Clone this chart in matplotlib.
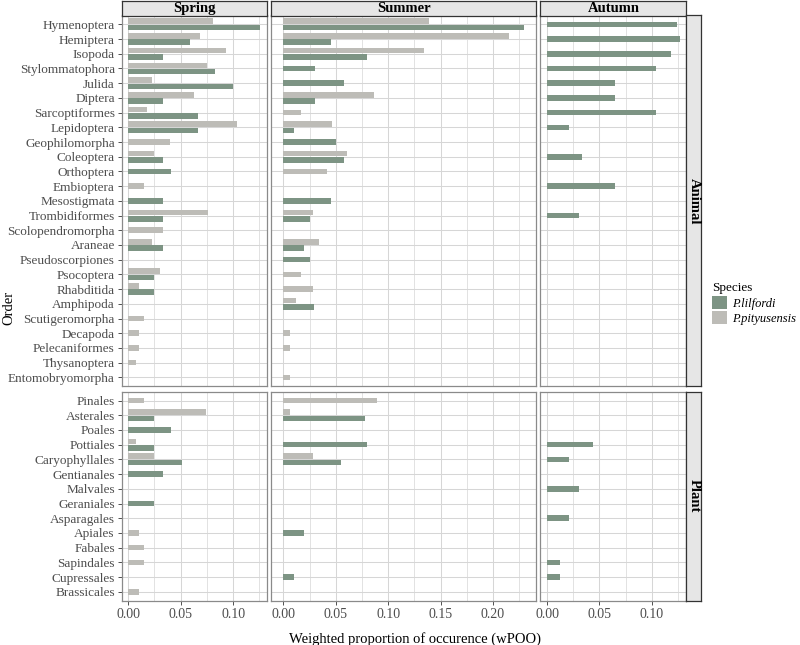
import numpy as np
import matplotlib
matplotlib.use("Agg")
import matplotlib.pyplot as plt
from matplotlib.patches import Patch
from matplotlib.ticker import MultipleLocator, FormatStrFormatter

plt.rcParams['font.family'] = ['Liberation Serif', 'DejaVu Serif']

# ---------------- data ----------------
seasons = ["Spring", "Summer", "Autumn"]
groups = ["Animal", "Plant"]
species = ["P.lilfordi", "P.pityusensis"]

animal_orders = ["Hymenoptera", "Hemiptera", "Isopoda", "Stylommatophora", "Julida",
                 "Diptera", "Sarcoptiformes", "Lepidoptera", "Geophilomorpha", "Coleoptera",
                 "Orthoptera", "Embioptera", "Mesostigmata", "Trombidiformes",
                 "Scolopendromorpha", "Araneae", "Pseudoscorpiones", "Psocoptera",
                 "Rhabditida", "Amphipoda", "Scutigeromorpha", "Decapoda", "Pelecaniformes",
                 "Thysanoptera", "Entomobryomorpha"]
plant_orders = ["Pinales", "Asterales", "Poales", "Pottiales", "Caryophyllales", "Gentianales",
                "Malvales", "Geraniales", "Asparagales", "Apiales", "Fabales", "Sapindales",
                "Cupressales", "Brassicales"]

# animal values (0 = absent)
spring_lil_animal = [0.126, 0.059, 0.033, 0.083, 0.100, 0.033, 0.067, 0.067, 0, 0.033,
                     0.041, 0, 0.033, 0.033, 0, 0.033, 0, 0.025, 0.025, 0,
                     0, 0, 0, 0, 0]
spring_pit_animal = [0.081, 0.068, 0.093, 0.075, 0.023, 0.063, 0.018, 0.104, 0.040, 0.025,
                     0, 0.015, 0, 0.076, 0.033, 0.023, 0, 0.030, 0.010, 0,
                     0.015, 0.010, 0.010, 0.007, 0]
summer_lil_animal = [0.2295, 0.045, 0.080, 0.030, 0.058, 0.030, 0, 0.010, 0.050, 0.058,
                     0, 0, 0.045, 0.025, 0, 0.020, 0.025, 0, 0, 0.029,
                     0, 0, 0, 0, 0]
summer_pit_animal = [0.139, 0.2156, 0.134, 0, 0, 0.086, 0.017, 0.046, 0, 0.061,
                     0.042, 0, 0, 0.028, 0, 0.034, 0, 0.017, 0.028, 0.012,
                     0, 0.006, 0.006, 0, 0.006]
autumn_lil_animal = [0.1245, 0.1268, 0.1185, 0.1038, 0.0646, 0.0646, 0.1038, 0.021, 0, 0.0334,
                     0, 0.0646, 0, 0.031, 0, 0, 0, 0, 0, 0,
                     0, 0, 0, 0, 0]
autumn_pit_animal = [0] * 25

# plant values
spring_lil_plant = [0, 0.025, 0.041, 0.025, 0.051, 0.033, 0, 0.025, 0, 0, 0, 0, 0, 0]
spring_pit_plant = [0.015, 0.074, 0, 0.007, 0.025, 0, 0, 0, 0, 0.010, 0.015, 0.015, 0, 0.010]
summer_lil_plant = [0, 0.078, 0, 0.080, 0.055, 0, 0, 0, 0, 0.020, 0, 0, 0.010, 0]
summer_pit_plant = [0.089, 0.006, 0, 0, 0.028, 0, 0, 0, 0, 0, 0, 0, 0, 0]
autumn_lil_plant = [0, 0, 0, 0.044, 0.021, 0, 0.031, 0, 0.021, 0, 0, 0.0124, 0.0124, 0]
autumn_pit_plant = [0] * 14

# ---------------- style ----------------
col_lil = "#7d9484"
col_pit = "#bdbcb7"
grid_col = "#d6d6d6"
border_col = "#8a8a8a"
strip_bg = "#e6e6e6"
strip_edge = "#333333"
tick_col = "#4d4d4d"

data = {
    ("Animal", "Spring"): (spring_lil_animal, spring_pit_animal),
    ("Animal", "Summer"): (summer_lil_animal, summer_pit_animal),
    ("Animal", "Autumn"): (autumn_lil_animal, autumn_pit_animal),
    ("Plant", "Spring"): (spring_lil_plant, spring_pit_plant),
    ("Plant", "Summer"): (summer_lil_plant, summer_pit_plant),
    ("Plant", "Autumn"): (autumn_lil_plant, autumn_pit_plant),
}
orders = {"Animal": animal_orders, "Plant": plant_orders}

W, H = 800, 645
fig = plt.figure(figsize=(W / 100, H / 100), dpi=100)

# free x scales per season
season_max = {}
for s in seasons:
    m = 0
    for g in groups:
        lil, pit = data[(g, s)]
        m = max(m, max(lil), max(pit))
    season_max[s] = m

left0 = 121.7
right_end = 686.5
gap_x = 4.5
tot_range = sum(1.1 * season_max[s] for s in seasons)
xscale = (right_end - left0 - 2 * gap_x) / tot_range

top0 = 15.5
bottom_end = 600.6
gap_y = 5.5
units = {g: len(orders[g]) - 1 + 1.2 for g in groups}
yscale = (bottom_end - top0 - gap_y) / sum(units.values())

strip_h = 14.5
strip_w = 14.8

def fx(px):
    return px / W

def fy(py):
    return 1 - py / H

bar_h = 0.38
off = 0.215

x_pos = {}
x = left0
for s in seasons:
    w = 1.1 * season_max[s] * xscale
    x_pos[s] = (x, w)
    x += w + gap_x

y_pos = {}
y = top0
for g in groups:
    h = units[g] * yscale
    y_pos[g] = (y, h)
    y += h + gap_y

for gi, g in enumerate(groups):
    cats = orders[g]
    n = len(cats)
    ys = np.arange(n)[::-1]
    for si, s in enumerate(seasons):
        px, pw = x_pos[s]
        py, ph = y_pos[g]
        ax = fig.add_axes([fx(px), fy(py + ph), pw / W, ph / H])
        lil, pit = data[(g, s)]
        for k in range(n):
            a, b = lil[k], pit[k]
            if a > 0 and b > 0:
                ax.barh(ys[k] + off, b, height=bar_h, color=col_pit, zorder=3)
                ax.barh(ys[k] - off, a, height=bar_h, color=col_lil, zorder=3)
            elif a > 0:
                ax.barh(ys[k], a, height=bar_h, color=col_lil, zorder=3)
            elif b > 0:
                ax.barh(ys[k], b, height=bar_h, color=col_pit, zorder=3)
        M = season_max[s]
        ax.set_xlim(-0.05 * M, 1.05 * M)
        ax.set_ylim(-0.6, n - 1 + 0.6)
        ax.set_yticks(ys)
        ax.xaxis.set_major_locator(MultipleLocator(0.05))
        ax.xaxis.set_minor_locator(MultipleLocator(0.025))
        ax.xaxis.set_major_formatter(FormatStrFormatter('%.2f'))
        ax.grid(True, which='major', color=grid_col, lw=0.75, zorder=0)
        ax.grid(True, which='minor', axis='x', color=grid_col, lw=0.5, zorder=0)
        ax.set_axisbelow(True)
        for sp in ax.spines.values():
            sp.set_color(border_col)
            sp.set_linewidth(0.9)
        ax.tick_params(axis='y', which='major', length=3, width=0.6, color='#333333',
                       labelsize=9.5, labelcolor=tick_col, pad=2)
        ax.tick_params(axis='x', which='major', length=3, width=0.6, color='#333333',
                       labelsize=10, labelcolor=tick_col, pad=2)
        ax.tick_params(axis='x', which='minor', length=0)
        if si == 0:
            ax.set_yticklabels(cats)
        else:
            ax.tick_params(axis='y', length=0, labelleft=False)
        if gi != len(groups) - 1:
            ax.tick_params(axis='x', which='major', length=0, labelbottom=False)

        # top strips
        if gi == 0:
            sax = fig.add_axes([fx(px), fy(top0), pw / W, strip_h / H])
            sax.set_facecolor(strip_bg)
            sax.set_xticks([]); sax.set_yticks([])
            for sp in sax.spines.values():
                sp.set_color(strip_edge); sp.set_linewidth(0.9)
            sax.text(0.5, 0.5, s, ha='center', va='center', fontsize=10.5,
                     fontweight='bold', transform=sax.transAxes)
        # right strips
        if si == len(seasons) - 1:
            rax = fig.add_axes([fx(px + pw), fy(py + ph), strip_w / W, ph / H])
            rax.set_facecolor(strip_bg)
            rax.set_xticks([]); rax.set_yticks([])
            for sp in rax.spines.values():
                sp.set_color(strip_edge); sp.set_linewidth(0.9)
            rax.text(0.5, 0.5, g, ha='center', va='center', fontsize=10.5,
                     fontweight='bold', rotation=-90, transform=rax.transAxes)

fig.text(fx(9), fy((top0 + bottom_end) / 2), "Order", rotation=90, ha='center',
         va='center', fontsize=10.5)
fig.text(fx(415), fy(639), "Weighted proportion of occurence (wPOO)", ha='center',
         va='center', fontsize=10.5)

handles = [Patch(facecolor=col_lil, edgecolor='none', label=species[0]),
           Patch(facecolor=col_pit, edgecolor='none', label=species[1])]
leg = fig.legend(handles=handles, title="Species", loc='upper left',
                 bbox_to_anchor=(fx(712), fy(282)), frameon=False,
                 prop={'style': 'italic', 'size': 9}, title_fontsize=9.5,
                 handlelength=1.2, handleheight=1.2, labelspacing=0.15,
                 handletextpad=0.4, borderaxespad=0, borderpad=0)
leg._legend_box.align = "left"

fig.savefig("out.png", dpi=100)
